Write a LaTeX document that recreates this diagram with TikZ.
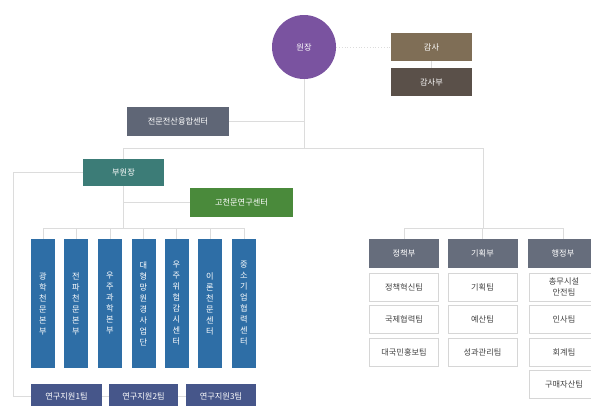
\documentclass[tikz,border=0pt]{standalone}
\usepackage{fontspec}
\newfontfamily\kr{Noto Sans CJK KR}
\definecolor{cPurple}{HTML}{7A53A0}
\definecolor{cBrown}{HTML}{7F6E56}
\definecolor{cDark}{HTML}{5A5049}
\definecolor{cSlate}{HTML}{5F6676}
\definecolor{cTeal}{HTML}{3C7C77}
\definecolor{cGreen}{HTML}{4A8A3B}
\definecolor{cBlue}{HTML}{2E6EA6}
\definecolor{cNavy}{HTML}{46568A}
\definecolor{cGray}{HTML}{666D7C}
\definecolor{cLine}{HTML}{DCDCDC}
\definecolor{cBorder}{HTML}{D6D6D6}
\definecolor{cText}{HTML}{444444}
\begin{document}
\begin{tikzpicture}[x=1pt,y=-1pt,
  base/.style={inner sep=0pt, align=center, font=\kr\fontsize{8.2}{10.5}\selectfont},
  cbox/.style={base, text=white, minimum height=28pt},
  wbox/.style={base, text=cText, draw=cBorder, line width=0.7pt, fill=white, minimum width=69pt, minimum height=28pt},
  vbox/.style={base, text=white, fill=cBlue, minimum width=24pt, minimum height=129pt, font=\kr\fontsize{8.2}{11}\selectfont},
  conn/.style={draw=cLine, line width=0.8pt},
  dconn/.style={draw=cLine, line width=0.8pt, dotted}
]
\useasboundingbox (0,0) rectangle (591,405);
\clip (0,0) rectangle (591,405);

% top
\node[base, circle, fill=cPurple, text=white, minimum size=64pt] (wj) at (304,47) {원장};
\node[cbox, fill=cBrown, minimum width=81pt] (gs) at (431.5,47) {감사};
\node[cbox, fill=cDark, minimum width=81pt] (gsb) at (431.5,82) {감사부};
\node[cbox, fill=cSlate, minimum width=102pt, minimum height=29pt] (js) at (178,121.5) {전문전산융합센터};
\node[cbox, fill=cTeal, minimum width=81pt, minimum height=27pt] (bw) at (123.5,172.5) {부원장};
\node[cbox, fill=cGreen, minimum width=103pt, minimum height=29pt] (gc) at (241.5,202.5) {고천문연구센터};

% blue vertical boxes
\node[vbox] (b1) at (43,303.5) {광\\학\\천\\문\\본\\부};
\node[vbox] (b2) at (76,303.5) {전\\파\\천\\문\\본\\부};
\node[vbox] (b3) at (110,303.5) {우\\주\\과\\학\\본\\부};
\node[vbox] (b4) at (143.5,303.5) {대\\형\\망\\원\\경\\사\\업\\단};
\node[vbox] (b5) at (176.5,303.5) {우\\주\\위\\험\\감\\시\\센\\터};
\node[vbox] (b6) at (210,303.5) {이\\론\\천\\문\\센\\터};
\node[vbox] (b7) at (244,303.5) {중\\소\\기\\업\\협\\력\\센\\터};

% support teams
\node[cbox, fill=cNavy, minimum width=71pt, minimum height=24pt] (t1) at (66.5,396) {연구지원1팀};
\node[cbox, fill=cNavy, minimum width=69pt, minimum height=24pt] (t2) at (143.5,396) {연구지원2팀};
\node[cbox, fill=cNavy, minimum width=70pt, minimum height=24pt] (t3) at (221,396) {연구지원3팀};

% right departments
\node[cbox, fill=cGray, minimum width=70pt, minimum height=29pt] (p1) at (404,253.5) {정책부};
\node[cbox, fill=cGray, minimum width=70pt, minimum height=29pt] (p2) at (482.5,253.5) {기획부};
\node[cbox, fill=cGray, minimum width=70pt, minimum height=29pt] (p3) at (563,253.5) {행정부};

\node[wbox] (a1) at (404,287) {정책혁신팀};
\node[wbox] (a2) at (404,319.5) {국제협력팀};
\node[wbox] (a3) at (404,352) {대국민홍보팀};
\node[wbox] (c1) at (482.5,287) {기획팀};
\node[wbox] (c2) at (482.5,319.5) {예산팀};
\node[wbox] (c3) at (482.5,352) {성과관리팀};
\node[wbox] (d1) at (564,287) {총무시설\\안전팀};
\node[wbox] (d2) at (564,319.5) {인사팀};
\node[wbox] (d3) at (564,352) {회계팀};
\node[wbox] (d4) at (564,384) {구매자산팀};

% connectors
\coordinate (jmain) at (304,148);
\coordinate (jleft) at (123.5,148);
\coordinate (jright) at (483,148);
\coordinate (jblue) at (123.5,228);
\coordinate (jdept) at (483,228);
\coordinate (jcorner1) at (13,172.5);
\coordinate (jcorner2) at (13,396);

\draw[dconn] (wj.east) -- (gs.west);
\draw[conn] (gs.south) -- (gsb.north);
\draw[conn] (wj.south) -- (jmain);
\draw[conn] (js.east) -- (wj.south |- js.east);
\draw[conn] (jleft) -- (jright);
\draw[conn] (jleft) -- (bw.north);
\draw[conn] (bw.south) -- (jblue);
\draw[conn] (bw.south |- gc.west) -- (gc.west);
\draw[conn] (b1.north |- jblue) -- (b7.north |- jblue);
\foreach \b in {b1,b2,b3,b4,b5,b6,b7} {\draw[conn] (\b.north |- jblue) -- (\b.north);}
\draw[conn] (bw.west) -- (jcorner1) -- (jcorner2) -- (t1.west);
\draw[conn] (t1.east) -- (t2.west);
\draw[conn] (t2.east) -- (t3.west);
\draw[conn] (jright) -- (jdept);
\draw[conn] (p1.north |- jdept) -- (p3.north |- jdept);
\foreach \p in {p1,p2,p3} {\draw[conn] (\p.north |- jdept) -- (\p.north);}
\end{tikzpicture}
\end{document}
